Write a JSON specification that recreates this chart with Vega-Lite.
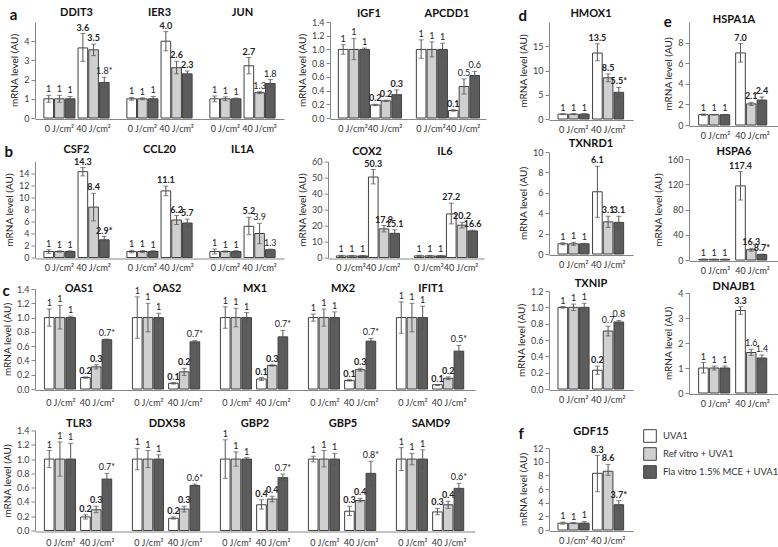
{
"$schema":"https://vega.github.io/schema/vega-lite/v6.json",
"background":"white",
"padding":{"left":2,"top":7,"right":0,"bottom":0},
"config":{
 "font":"Lato",
 "view":{"stroke":null},
 "header":{"labelFontSize":11,"labelFontWeight":"bold","labelColor":"#111111","labelFont":"Lato"},
 "axisY":{"domainColor":"#868686","tickColor":"#868686","tickSize":4,"labelFontSize":9,"labelColor":"#404040","titleFontSize":10,"titleFontWeight":"normal","titleColor":"#222222","titlePadding":4,"grid":false,"labelPadding":2,"labelOverlap":false,"labelFlush":false,"tickCount":30},
 "axisX":{"domainColor":"#868686","ticks":false,"labelFontSize":9,"labelColor":"#333333","labelPadding":5,"labelAngle":0,"labelOverlap":false,"labelBound":false,"grid":false},
 "title":{"fontSize":15,"fontWeight":"bold","color":"#111111","anchor":"start","frame":"bounds","offset":-16},
 "legend":{"orient":"none","legendX":608,"legendY":407,"symbolType":"square","symbolSize":160,"symbolStrokeColor":"#404040","symbolStrokeWidth":1,"labelFontSize":9.5,"labelColor":"#333333","rowPadding":0,"labelOffset":6}
},
"datasets":{"bars":[
{"p":"a1","g":"DDIT3","d":"0 J/cm²","t":"UVA1","m":1,"lo":0.82,"hi":1.18,"lab":"1","s":"n"},
{"p":"a1","g":"DDIT3","d":"0 J/cm²","t":"Ref vitro + UVA1","m":1,"lo":0.82,"hi":1.18,"lab":"1","s":"n"},
{"p":"a1","g":"DDIT3","d":"0 J/cm²","t":"Fla vitro 1.5% MCE + UVA1","m":1,"lo":0.88,"hi":1.12,"lab":"1","s":"n"},
{"p":"a1","g":"DDIT3","d":"40 J/cm²","t":"UVA1","m":3.65,"lo":2.95,"hi":4.4,"lab":"3.6","s":"y"},
{"p":"a1","g":"DDIT3","d":"40 J/cm²","t":"Ref vitro + UVA1","m":3.55,"lo":3.25,"hi":3.85,"lab":"3.5","s":"y"},
{"p":"a1","g":"DDIT3","d":"40 J/cm²","t":"Fla vitro 1.5% MCE + UVA1","m":1.85,"lo":1.6,"hi":2.12,"lab":"1.8*","s":"n"},
{"p":"a1","g":"IER3","d":"0 J/cm²","t":"UVA1","m":1,"lo":0.93,"hi":1.07,"lab":"1","s":"n"},
{"p":"a1","g":"IER3","d":"0 J/cm²","t":"Ref vitro + UVA1","m":1,"lo":0.95,"hi":1.05,"lab":"1","s":"n"},
{"p":"a1","g":"IER3","d":"0 J/cm²","t":"Fla vitro 1.5% MCE + UVA1","m":1,"lo":0.88,"hi":1.12,"lab":"1","s":"n"},
{"p":"a1","g":"IER3","d":"40 J/cm²","t":"UVA1","m":4.0,"lo":3.5,"hi":4.5,"lab":"4.0","s":"y"},
{"p":"a1","g":"IER3","d":"40 J/cm²","t":"Ref vitro + UVA1","m":2.62,"lo":2.3,"hi":2.95,"lab":"2.6","s":"y"},
{"p":"a1","g":"IER3","d":"40 J/cm²","t":"Fla vitro 1.5% MCE + UVA1","m":2.3,"lo":2.15,"hi":2.45,"lab":"2.3","s":"y"},
{"p":"a1","g":"JUN","d":"0 J/cm²","t":"UVA1","m":1,"lo":0.85,"hi":1.15,"lab":"1","s":"n"},
{"p":"a1","g":"JUN","d":"0 J/cm²","t":"Ref vitro + UVA1","m":1,"lo":0.9,"hi":1.1,"lab":"1","s":"n"},
{"p":"a1","g":"JUN","d":"0 J/cm²","t":"Fla vitro 1.5% MCE + UVA1","m":1,"lo":0.96,"hi":1.04,"lab":"1","s":"n"},
{"p":"a1","g":"JUN","d":"40 J/cm²","t":"UVA1","m":2.72,"lo":2.3,"hi":3.15,"lab":"2.7","s":"y"},
{"p":"a1","g":"JUN","d":"40 J/cm²","t":"Ref vitro + UVA1","m":1.32,"lo":1.27,"hi":1.37,"lab":"1.3","s":"n"},
{"p":"a1","g":"JUN","d":"40 J/cm²","t":"Fla vitro 1.5% MCE + UVA1","m":1.8,"lo":1.6,"hi":2.0,"lab":"1.8","s":"n"},
{"p":"a2","g":"IGF1","d":"0 J/cm²","t":"UVA1","m":1,"lo":0.93,"hi":1.07,"lab":"1","s":"n"},
{"p":"a2","g":"IGF1","d":"0 J/cm²","t":"Ref vitro + UVA1","m":1,"lo":0.85,"hi":1.16,"lab":"1","s":"n"},
{"p":"a2","g":"IGF1","d":"0 J/cm²","t":"Fla vitro 1.5% MCE + UVA1","m":1,"lo":0.98,"hi":1.02,"lab":"1","s":"n"},
{"p":"a2","g":"IGF1","d":"40 J/cm²","t":"UVA1","m":0.19,"lo":0.18,"hi":0.2,"lab":"0.2","s":"y"},
{"p":"a2","g":"IGF1","d":"40 J/cm²","t":"Ref vitro + UVA1","m":0.25,"lo":0.24,"hi":0.26,"lab":"0.2","s":"y"},
{"p":"a2","g":"IGF1","d":"40 J/cm²","t":"Fla vitro 1.5% MCE + UVA1","m":0.34,"lo":0.28,"hi":0.41,"lab":"0.3","s":"y"},
{"p":"a2","g":"APCDD1","d":"0 J/cm²","t":"UVA1","m":1,"lo":0.87,"hi":1.14,"lab":"1","s":"n"},
{"p":"a2","g":"APCDD1","d":"0 J/cm²","t":"Ref vitro + UVA1","m":1,"lo":0.89,"hi":1.11,"lab":"1","s":"n"},
{"p":"a2","g":"APCDD1","d":"0 J/cm²","t":"Fla vitro 1.5% MCE + UVA1","m":1,"lo":0.9,"hi":1.09,"lab":"1","s":"n"},
{"p":"a2","g":"APCDD1","d":"40 J/cm²","t":"UVA1","m":0.11,"lo":0.1,"hi":0.12,"lab":"0.1","s":"y"},
{"p":"a2","g":"APCDD1","d":"40 J/cm²","t":"Ref vitro + UVA1","m":0.46,"lo":0.35,"hi":0.57,"lab":"0.5","s":"n"},
{"p":"a2","g":"APCDD1","d":"40 J/cm²","t":"Fla vitro 1.5% MCE + UVA1","m":0.62,"lo":0.57,"hi":0.68,"lab":"0.6","s":"n"},
{"p":"b1","g":"CSF2","d":"0 J/cm²","t":"UVA1","m":1,"lo":0.7,"hi":1.3,"lab":"1","s":"n"},
{"p":"b1","g":"CSF2","d":"0 J/cm²","t":"Ref vitro + UVA1","m":1,"lo":0.9,"hi":1.1,"lab":"1","s":"n"},
{"p":"b1","g":"CSF2","d":"0 J/cm²","t":"Fla vitro 1.5% MCE + UVA1","m":1,"lo":0.88,"hi":1.12,"lab":"1","s":"n"},
{"p":"b1","g":"CSF2","d":"40 J/cm²","t":"UVA1","m":14.3,"lo":13.6,"hi":15.0,"lab":"14.3","s":"y"},
{"p":"b1","g":"CSF2","d":"40 J/cm²","t":"Ref vitro + UVA1","m":8.4,"lo":6.1,"hi":10.7,"lab":"8.4","s":"y"},
{"p":"b1","g":"CSF2","d":"40 J/cm²","t":"Fla vitro 1.5% MCE + UVA1","m":2.95,"lo":2.5,"hi":3.5,"lab":"2.9*","s":"y"},
{"p":"b1","g":"CCL20","d":"0 J/cm²","t":"UVA1","m":1,"lo":0.8,"hi":1.2,"lab":"1","s":"n"},
{"p":"b1","g":"CCL20","d":"0 J/cm²","t":"Ref vitro + UVA1","m":1,"lo":0.82,"hi":1.18,"lab":"1","s":"n"},
{"p":"b1","g":"CCL20","d":"0 J/cm²","t":"Fla vitro 1.5% MCE + UVA1","m":1,"lo":0.85,"hi":1.15,"lab":"1","s":"n"},
{"p":"b1","g":"CCL20","d":"40 J/cm²","t":"UVA1","m":11.1,"lo":10.3,"hi":11.9,"lab":"11.1","s":"y"},
{"p":"b1","g":"CCL20","d":"40 J/cm²","t":"Ref vitro + UVA1","m":6.25,"lo":5.5,"hi":7.0,"lab":"6.2","s":"y"},
{"p":"b1","g":"CCL20","d":"40 J/cm²","t":"Fla vitro 1.5% MCE + UVA1","m":5.75,"lo":5.1,"hi":6.4,"lab":"5.7","s":"y"},
{"p":"b1","g":"IL1A","d":"0 J/cm²","t":"UVA1","m":1,"lo":0.6,"hi":1.4,"lab":"1","s":"n"},
{"p":"b1","g":"IL1A","d":"0 J/cm²","t":"Ref vitro + UVA1","m":1,"lo":0.9,"hi":1.1,"lab":"1","s":"n"},
{"p":"b1","g":"IL1A","d":"0 J/cm²","t":"Fla vitro 1.5% MCE + UVA1","m":1,"lo":0.85,"hi":1.15,"lab":"1","s":"n"},
{"p":"b1","g":"IL1A","d":"40 J/cm²","t":"UVA1","m":5.2,"lo":3.8,"hi":6.7,"lab":"5.2","s":"y"},
{"p":"b1","g":"IL1A","d":"40 J/cm²","t":"Ref vitro + UVA1","m":4.0,"lo":2.3,"hi":5.7,"lab":"3.9","s":"n"},
{"p":"b1","g":"IL1A","d":"40 J/cm²","t":"Fla vitro 1.5% MCE + UVA1","m":1.3,"lo":1.2,"hi":1.4,"lab":"1.3","s":"n"},
{"p":"b2","g":"COX2","d":"0 J/cm²","t":"UVA1","m":1,"lo":0.6,"hi":1.4,"lab":"1","s":"n"},
{"p":"b2","g":"COX2","d":"0 J/cm²","t":"Ref vitro + UVA1","m":1,"lo":0.7,"hi":1.3,"lab":"1","s":"n"},
{"p":"b2","g":"COX2","d":"0 J/cm²","t":"Fla vitro 1.5% MCE + UVA1","m":1,"lo":0.7,"hi":1.3,"lab":"1","s":"n"},
{"p":"b2","g":"COX2","d":"40 J/cm²","t":"UVA1","m":50.3,"lo":46,"hi":55,"lab":"50.3","s":"y"},
{"p":"b2","g":"COX2","d":"40 J/cm²","t":"Ref vitro + UVA1","m":17.9,"lo":16,"hi":20,"lab":"17.9","s":"y"},
{"p":"b2","g":"COX2","d":"40 J/cm²","t":"Fla vitro 1.5% MCE + UVA1","m":15.1,"lo":13,"hi":17.3,"lab":"15.1","s":"y"},
{"p":"b2","g":"IL6","d":"0 J/cm²","t":"UVA1","m":1,"lo":0.6,"hi":1.4,"lab":"1","s":"n"},
{"p":"b2","g":"IL6","d":"0 J/cm²","t":"Ref vitro + UVA1","m":1,"lo":0.7,"hi":1.3,"lab":"1","s":"n"},
{"p":"b2","g":"IL6","d":"0 J/cm²","t":"Fla vitro 1.5% MCE + UVA1","m":1,"lo":0.7,"hi":1.3,"lab":"1","s":"n"},
{"p":"b2","g":"IL6","d":"40 J/cm²","t":"UVA1","m":27.2,"lo":21,"hi":34,"lab":"27.2","s":"y"},
{"p":"b2","g":"IL6","d":"40 J/cm²","t":"Ref vitro + UVA1","m":20.2,"lo":18.5,"hi":22,"lab":"20.2","s":"y"},
{"p":"b2","g":"IL6","d":"40 J/cm²","t":"Fla vitro 1.5% MCE + UVA1","m":16.6,"lo":16.1,"hi":17.1,"lab":"16.6","s":"y"},
{"p":"c1","g":"OAS1","d":"0 J/cm²","t":"UVA1","m":1,"lo":0.88,"hi":1.12,"lab":"1","s":"n"},
{"p":"c1","g":"OAS1","d":"0 J/cm²","t":"Ref vitro + UVA1","m":1,"lo":0.84,"hi":1.17,"lab":"1","s":"n"},
{"p":"c1","g":"OAS1","d":"0 J/cm²","t":"Fla vitro 1.5% MCE + UVA1","m":1,"lo":0.98,"hi":1.02,"lab":"1","s":"n"},
{"p":"c1","g":"OAS1","d":"40 J/cm²","t":"UVA1","m":0.16,"lo":0.15,"hi":0.17,"lab":"0.2","s":"y"},
{"p":"c1","g":"OAS1","d":"40 J/cm²","t":"Ref vitro + UVA1","m":0.31,"lo":0.28,"hi":0.34,"lab":"0.3","s":"y"},
{"p":"c1","g":"OAS1","d":"40 J/cm²","t":"Fla vitro 1.5% MCE + UVA1","m":0.69,"lo":0.68,"hi":0.7,"lab":"0.7*","s":"n"},
{"p":"c1","g":"OAS2","d":"0 J/cm²","t":"UVA1","m":1,"lo":0.71,"hi":1.29,"lab":"1","s":"n"},
{"p":"c1","g":"OAS2","d":"0 J/cm²","t":"Ref vitro + UVA1","m":1,"lo":0.8,"hi":1.2,"lab":"1","s":"n"},
{"p":"c1","g":"OAS2","d":"0 J/cm²","t":"Fla vitro 1.5% MCE + UVA1","m":1,"lo":0.94,"hi":1.06,"lab":"1","s":"n"},
{"p":"c1","g":"OAS2","d":"40 J/cm²","t":"UVA1","m":0.08,"lo":0.07,"hi":0.09,"lab":"0.1","s":"y"},
{"p":"c1","g":"OAS2","d":"40 J/cm²","t":"Ref vitro + UVA1","m":0.24,"lo":0.19,"hi":0.29,"lab":"0.2","s":"y"},
{"p":"c1","g":"OAS2","d":"40 J/cm²","t":"Fla vitro 1.5% MCE + UVA1","m":0.66,"lo":0.64,"hi":0.68,"lab":"0.7*","s":"n"},
{"p":"c1","g":"MX1","d":"0 J/cm²","t":"UVA1","m":1,"lo":0.85,"hi":1.15,"lab":"1","s":"n"},
{"p":"c1","g":"MX1","d":"0 J/cm²","t":"Ref vitro + UVA1","m":1,"lo":0.87,"hi":1.13,"lab":"1","s":"n"},
{"p":"c1","g":"MX1","d":"0 J/cm²","t":"Fla vitro 1.5% MCE + UVA1","m":1,"lo":0.93,"hi":1.07,"lab":"1","s":"n"},
{"p":"c1","g":"MX1","d":"40 J/cm²","t":"UVA1","m":0.14,"lo":0.12,"hi":0.16,"lab":"0.1","s":"y"},
{"p":"c1","g":"MX1","d":"40 J/cm²","t":"Ref vitro + UVA1","m":0.33,"lo":0.32,"hi":0.34,"lab":"0.3","s":"y"},
{"p":"c1","g":"MX1","d":"40 J/cm²","t":"Fla vitro 1.5% MCE + UVA1","m":0.73,"lo":0.65,"hi":0.82,"lab":"0.7*","s":"n"},
{"p":"c1","g":"MX2","d":"0 J/cm²","t":"UVA1","m":1,"lo":0.95,"hi":1.05,"lab":"1","s":"n"},
{"p":"c1","g":"MX2","d":"0 J/cm²","t":"Ref vitro + UVA1","m":1,"lo":0.88,"hi":1.12,"lab":"1","s":"n"},
{"p":"c1","g":"MX2","d":"0 J/cm²","t":"Fla vitro 1.5% MCE + UVA1","m":1,"lo":0.92,"hi":1.08,"lab":"1","s":"n"},
{"p":"c1","g":"MX2","d":"40 J/cm²","t":"UVA1","m":0.12,"lo":0.11,"hi":0.13,"lab":"0.1","s":"y"},
{"p":"c1","g":"MX2","d":"40 J/cm²","t":"Ref vitro + UVA1","m":0.27,"lo":0.25,"hi":0.29,"lab":"0.3","s":"y"},
{"p":"c1","g":"MX2","d":"40 J/cm²","t":"Fla vitro 1.5% MCE + UVA1","m":0.67,"lo":0.64,"hi":0.71,"lab":"0.7*","s":"n"},
{"p":"c1","g":"IFIT1","d":"0 J/cm²","t":"UVA1","m":1,"lo":0.78,"hi":1.22,"lab":"1","s":"n"},
{"p":"c1","g":"IFIT1","d":"0 J/cm²","t":"Ref vitro + UVA1","m":1,"lo":0.8,"hi":1.2,"lab":"1","s":"n"},
{"p":"c1","g":"IFIT1","d":"0 J/cm²","t":"Fla vitro 1.5% MCE + UVA1","m":1,"lo":0.84,"hi":1.16,"lab":"1","s":"n"},
{"p":"c1","g":"IFIT1","d":"40 J/cm²","t":"UVA1","m":0.06,"lo":0.05,"hi":0.06,"lab":"0.1","s":"y"},
{"p":"c1","g":"IFIT1","d":"40 J/cm²","t":"Ref vitro + UVA1","m":0.15,"lo":0.13,"hi":0.17,"lab":"0.2","s":"y"},
{"p":"c1","g":"IFIT1","d":"40 J/cm²","t":"Fla vitro 1.5% MCE + UVA1","m":0.53,"lo":0.45,"hi":0.61,"lab":"0.5*","s":"n"},
{"p":"c2","g":"TLR3","d":"0 J/cm²","t":"UVA1","m":1,"lo":0.88,"hi":1.12,"lab":"1","s":"n"},
{"p":"c2","g":"TLR3","d":"0 J/cm²","t":"Ref vitro + UVA1","m":1,"lo":0.76,"hi":1.24,"lab":"1","s":"n"},
{"p":"c2","g":"TLR3","d":"0 J/cm²","t":"Fla vitro 1.5% MCE + UVA1","m":1,"lo":0.78,"hi":1.22,"lab":"1","s":"n"},
{"p":"c2","g":"TLR3","d":"40 J/cm²","t":"UVA1","m":0.19,"lo":0.16,"hi":0.22,"lab":"0.2","s":"y"},
{"p":"c2","g":"TLR3","d":"40 J/cm²","t":"Ref vitro + UVA1","m":0.29,"lo":0.25,"hi":0.34,"lab":"0.3","s":"y"},
{"p":"c2","g":"TLR3","d":"40 J/cm²","t":"Fla vitro 1.5% MCE + UVA1","m":0.72,"lo":0.64,"hi":0.8,"lab":"0.7*","s":"n"},
{"p":"c2","g":"DDX58","d":"0 J/cm²","t":"UVA1","m":1,"lo":0.85,"hi":1.15,"lab":"1","s":"n"},
{"p":"c2","g":"DDX58","d":"0 J/cm²","t":"Ref vitro + UVA1","m":1,"lo":0.88,"hi":1.12,"lab":"1","s":"n"},
{"p":"c2","g":"DDX58","d":"0 J/cm²","t":"Fla vitro 1.5% MCE + UVA1","m":1,"lo":0.94,"hi":1.06,"lab":"1","s":"n"},
{"p":"c2","g":"DDX58","d":"40 J/cm²","t":"UVA1","m":0.17,"lo":0.16,"hi":0.19,"lab":"0.2","s":"y"},
{"p":"c2","g":"DDX58","d":"40 J/cm²","t":"Ref vitro + UVA1","m":0.3,"lo":0.26,"hi":0.34,"lab":"0.3","s":"y"},
{"p":"c2","g":"DDX58","d":"40 J/cm²","t":"Fla vitro 1.5% MCE + UVA1","m":0.63,"lo":0.62,"hi":0.65,"lab":"0.6*","s":"n"},
{"p":"c2","g":"GBP2","d":"0 J/cm²","t":"UVA1","m":1,"lo":0.73,"hi":1.27,"lab":"1","s":"n"},
{"p":"c2","g":"GBP2","d":"0 J/cm²","t":"Ref vitro + UVA1","m":1,"lo":0.9,"hi":1.1,"lab":"1","s":"n"},
{"p":"c2","g":"GBP2","d":"0 J/cm²","t":"Fla vitro 1.5% MCE + UVA1","m":1,"lo":0.98,"hi":1.02,"lab":"1","s":"n"},
{"p":"c2","g":"GBP2","d":"40 J/cm²","t":"UVA1","m":0.36,"lo":0.3,"hi":0.43,"lab":"0.4","s":"y"},
{"p":"c2","g":"GBP2","d":"40 J/cm²","t":"Ref vitro + UVA1","m":0.44,"lo":0.4,"hi":0.48,"lab":"0.4","s":"y"},
{"p":"c2","g":"GBP2","d":"40 J/cm²","t":"Fla vitro 1.5% MCE + UVA1","m":0.74,"lo":0.7,"hi":0.79,"lab":"0.7*","s":"n"},
{"p":"c2","g":"GBP5","d":"0 J/cm²","t":"UVA1","m":1,"lo":0.96,"hi":1.04,"lab":"1","s":"n"},
{"p":"c2","g":"GBP5","d":"0 J/cm²","t":"Ref vitro + UVA1","m":1,"lo":0.89,"hi":1.12,"lab":"1","s":"n"},
{"p":"c2","g":"GBP5","d":"0 J/cm²","t":"Fla vitro 1.5% MCE + UVA1","m":1,"lo":0.92,"hi":1.08,"lab":"1","s":"n"},
{"p":"c2","g":"GBP5","d":"40 J/cm²","t":"UVA1","m":0.27,"lo":0.21,"hi":0.34,"lab":"0.3","s":"y"},
{"p":"c2","g":"GBP5","d":"40 J/cm²","t":"Ref vitro + UVA1","m":0.42,"lo":0.4,"hi":0.45,"lab":"0.4","s":"y"},
{"p":"c2","g":"GBP5","d":"40 J/cm²","t":"Fla vitro 1.5% MCE + UVA1","m":0.8,"lo":0.63,"hi":0.97,"lab":"0.8*","s":"n"},
{"p":"c2","g":"SAMD9","d":"0 J/cm²","t":"UVA1","m":1,"lo":0.84,"hi":1.16,"lab":"1","s":"n"},
{"p":"c2","g":"SAMD9","d":"0 J/cm²","t":"Ref vitro + UVA1","m":1,"lo":0.92,"hi":1.08,"lab":"1","s":"n"},
{"p":"c2","g":"SAMD9","d":"0 J/cm²","t":"Fla vitro 1.5% MCE + UVA1","m":1,"lo":0.87,"hi":1.13,"lab":"1","s":"n"},
{"p":"c2","g":"SAMD9","d":"40 J/cm²","t":"UVA1","m":0.26,"lo":0.22,"hi":0.31,"lab":"0.3","s":"y"},
{"p":"c2","g":"SAMD9","d":"40 J/cm²","t":"Ref vitro + UVA1","m":0.36,"lo":0.31,"hi":0.41,"lab":"0.4","s":"y"},
{"p":"c2","g":"SAMD9","d":"40 J/cm²","t":"Fla vitro 1.5% MCE + UVA1","m":0.59,"lo":0.53,"hi":0.66,"lab":"0.6*","s":"n"},
{"p":"d1","g":"HMOX1","d":"0 J/cm²","t":"UVA1","m":1,"lo":0.9,"hi":1.1,"lab":"1","s":"n"},
{"p":"d1","g":"HMOX1","d":"0 J/cm²","t":"Ref vitro + UVA1","m":1,"lo":0.9,"hi":1.1,"lab":"1","s":"n"},
{"p":"d1","g":"HMOX1","d":"0 J/cm²","t":"Fla vitro 1.5% MCE + UVA1","m":1,"lo":0.9,"hi":1.1,"lab":"1","s":"n"},
{"p":"d1","g":"HMOX1","d":"40 J/cm²","t":"UVA1","m":13.6,"lo":12.0,"hi":15.5,"lab":"13.5","s":"y"},
{"p":"d1","g":"HMOX1","d":"40 J/cm²","t":"Ref vitro + UVA1","m":8.5,"lo":7.7,"hi":9.3,"lab":"8.5","s":"y"},
{"p":"d1","g":"HMOX1","d":"40 J/cm²","t":"Fla vitro 1.5% MCE + UVA1","m":5.5,"lo":4.5,"hi":6.5,"lab":"5.5*","s":"y"},
{"p":"d2","g":"TXNRD1","d":"0 J/cm²","t":"UVA1","m":1,"lo":0.9,"hi":1.1,"lab":"1","s":"n"},
{"p":"d2","g":"TXNRD1","d":"0 J/cm²","t":"Ref vitro + UVA1","m":1,"lo":0.85,"hi":1.15,"lab":"1","s":"n"},
{"p":"d2","g":"TXNRD1","d":"0 J/cm²","t":"Fla vitro 1.5% MCE + UVA1","m":1,"lo":0.95,"hi":1.05,"lab":"1","s":"n"},
{"p":"d2","g":"TXNRD1","d":"40 J/cm²","t":"UVA1","m":6.1,"lo":3.6,"hi":8.6,"lab":"6.1","s":"y"},
{"p":"d2","g":"TXNRD1","d":"40 J/cm²","t":"Ref vitro + UVA1","m":3.15,"lo":2.6,"hi":3.7,"lab":"3.1","s":"y"},
{"p":"d2","g":"TXNRD1","d":"40 J/cm²","t":"Fla vitro 1.5% MCE + UVA1","m":3.1,"lo":2.5,"hi":3.7,"lab":"3.1","s":"y"},
{"p":"d3","g":"TXNIP","d":"0 J/cm²","t":"UVA1","m":1,"lo":0.99,"hi":1.01,"lab":"1","s":"n"},
{"p":"d3","g":"TXNIP","d":"0 J/cm²","t":"Ref vitro + UVA1","m":1,"lo":0.96,"hi":1.04,"lab":"1","s":"n"},
{"p":"d3","g":"TXNIP","d":"0 J/cm²","t":"Fla vitro 1.5% MCE + UVA1","m":1,"lo":0.95,"hi":1.05,"lab":"1","s":"n"},
{"p":"d3","g":"TXNIP","d":"40 J/cm²","t":"UVA1","m":0.23,"lo":0.18,"hi":0.28,"lab":"0.2","s":"y"},
{"p":"d3","g":"TXNIP","d":"40 J/cm²","t":"Ref vitro + UVA1","m":0.71,"lo":0.65,"hi":0.77,"lab":"0.7","s":"n"},
{"p":"d3","g":"TXNIP","d":"40 J/cm²","t":"Fla vitro 1.5% MCE + UVA1","m":0.82,"lo":0.8,"hi":0.84,"lab":"0.8","s":"n"},
{"p":"e1","g":"HSPA1A","d":"0 J/cm²","t":"UVA1","m":1,"lo":0.93,"hi":1.07,"lab":"1","s":"n"},
{"p":"e1","g":"HSPA1A","d":"0 J/cm²","t":"Ref vitro + UVA1","m":1,"lo":0.97,"hi":1.03,"lab":"1","s":"n"},
{"p":"e1","g":"HSPA1A","d":"0 J/cm²","t":"Fla vitro 1.5% MCE + UVA1","m":1,"lo":0.97,"hi":1.03,"lab":"1","s":"n"},
{"p":"e1","g":"HSPA1A","d":"40 J/cm²","t":"UVA1","m":7.0,"lo":6.1,"hi":7.9,"lab":"7.0","s":"y"},
{"p":"e1","g":"HSPA1A","d":"40 J/cm²","t":"Ref vitro + UVA1","m":2.05,"lo":1.9,"hi":2.2,"lab":"2.1","s":"y"},
{"p":"e1","g":"HSPA1A","d":"40 J/cm²","t":"Fla vitro 1.5% MCE + UVA1","m":2.42,"lo":2.1,"hi":2.72,"lab":"2.4","s":"y"},
{"p":"e2","g":"HSPA6","d":"0 J/cm²","t":"UVA1","m":1,"lo":0.5,"hi":1.5,"lab":"1","s":"n"},
{"p":"e2","g":"HSPA6","d":"0 J/cm²","t":"Ref vitro + UVA1","m":1,"lo":0.5,"hi":1.5,"lab":"1","s":"n"},
{"p":"e2","g":"HSPA6","d":"0 J/cm²","t":"Fla vitro 1.5% MCE + UVA1","m":1,"lo":0.5,"hi":1.5,"lab":"1","s":"n"},
{"p":"e2","g":"HSPA6","d":"40 J/cm²","t":"UVA1","m":117.4,"lo":95,"hi":140,"lab":"117.4","s":"y"},
{"p":"e2","g":"HSPA6","d":"40 J/cm²","t":"Ref vitro + UVA1","m":16.3,"lo":14,"hi":18.5,"lab":"16.3","s":"y"},
{"p":"e2","g":"HSPA6","d":"40 J/cm²","t":"Fla vitro 1.5% MCE + UVA1","m":8.7,"lo":8,"hi":9.4,"lab":"8.7*","s":"y"},
{"p":"e3","g":"DNAJB1","d":"0 J/cm²","t":"UVA1","m":1,"lo":0.8,"hi":1.22,"lab":"1","s":"n"},
{"p":"e3","g":"DNAJB1","d":"0 J/cm²","t":"Ref vitro + UVA1","m":1,"lo":0.92,"hi":1.08,"lab":"1","s":"n"},
{"p":"e3","g":"DNAJB1","d":"0 J/cm²","t":"Fla vitro 1.5% MCE + UVA1","m":1,"lo":0.92,"hi":1.08,"lab":"1","s":"n"},
{"p":"e3","g":"DNAJB1","d":"40 J/cm²","t":"UVA1","m":3.3,"lo":3.15,"hi":3.45,"lab":"3.3","s":"y"},
{"p":"e3","g":"DNAJB1","d":"40 J/cm²","t":"Ref vitro + UVA1","m":1.62,"lo":1.5,"hi":1.75,"lab":"1.6","s":"n"},
{"p":"e3","g":"DNAJB1","d":"40 J/cm²","t":"Fla vitro 1.5% MCE + UVA1","m":1.4,"lo":1.28,"hi":1.52,"lab":"1.4","s":"n"},
{"p":"f","g":"GDF15","d":"0 J/cm²","t":"UVA1","m":1,"lo":0.85,"hi":1.15,"lab":"1","s":"n"},
{"p":"f","g":"GDF15","d":"0 J/cm²","t":"Ref vitro + UVA1","m":1,"lo":0.92,"hi":1.08,"lab":"1","s":"n"},
{"p":"f","g":"GDF15","d":"0 J/cm²","t":"Fla vitro 1.5% MCE + UVA1","m":1,"lo":0.8,"hi":1.25,"lab":"1","s":"n"},
{"p":"f","g":"GDF15","d":"40 J/cm²","t":"UVA1","m":8.3,"lo":5.6,"hi":10.9,"lab":"8.3","s":"y"},
{"p":"f","g":"GDF15","d":"40 J/cm²","t":"Ref vitro + UVA1","m":8.6,"lo":8.0,"hi":9.6,"lab":"8.6","s":"y"},
{"p":"f","g":"GDF15","d":"40 J/cm²","t":"Fla vitro 1.5% MCE + UVA1","m":3.7,"lo":3.2,"hi":4.3,"lab":"3.7*","s":"y"}
]},
"hconcat":[
 {"vconcat":[
  {"hconcat":[
   {"title":{"text":"a"},"data":{"name":"bars"},"transform":[{"filter":"datum.p==='a1'"}],
    "facet":{"column":{"field":"g","type":"nominal","sort":["DDIT3","IER3","JUN"],"title":null,"header":{"labelPadding":3}}},
    "spacing":{"column":0},
    "spec":{"width":83,"height":96,"layer":[
     {"mark":{"type":"bar","stroke":"#404040","strokeWidth":1},"encoding":{
      "x":{"field":"d","type":"nominal","sort":["0 J/cm²","40 J/cm²"],"title":null,"scale":{"paddingInner":0.09,"paddingOuter":0.26}},
      "xOffset":{"field":"t","type":"nominal","sort":["UVA1","Ref vitro + UVA1","Fla vitro 1.5% MCE + UVA1"],"scale":{"paddingInner":0.1}},
      "y":{"field":"m","type":"quantitative","title":"mRNA level (AU)","scale":{"domain":[0,5],"nice":false},"axis":{"values":[0,1,2,3,4],"format":"d","tickCount":30}},
      "color":{"field":"t","type":"nominal","title":null,"scale":{"domain":["UVA1","Ref vitro + UVA1","Fla vitro 1.5% MCE + UVA1"],"range":["#ffffff","#d0d0d0","#5c5c5c"]}}}},
     {"mark":{"type":"rule","color":"#555555","strokeWidth":1},"encoding":{"x":{"field":"d","type":"nominal","sort":["0 J/cm²","40 J/cm²"],"title":null},"xOffset":{"field":"t","type":"nominal","sort":["UVA1","Ref vitro + UVA1","Fla vitro 1.5% MCE + UVA1"]},"y":{"field":"lo","type":"quantitative","title":"mRNA level (AU)"},"y2":{"field":"hi"}}},
     {"mark":{"type":"tick","color":"#555555","thickness":1,"size":5},"encoding":{"x":{"field":"d","type":"nominal","sort":["0 J/cm²","40 J/cm²"],"title":null},"xOffset":{"field":"t","type":"nominal","sort":["UVA1","Ref vitro + UVA1","Fla vitro 1.5% MCE + UVA1"]},"y":{"field":"lo","type":"quantitative","title":"mRNA level (AU)"}}},
     {"mark":{"type":"tick","color":"#555555","thickness":1,"size":5},"encoding":{"x":{"field":"d","type":"nominal","sort":["0 J/cm²","40 J/cm²"],"title":null},"xOffset":{"field":"t","type":"nominal","sort":["UVA1","Ref vitro + UVA1","Fla vitro 1.5% MCE + UVA1"]},"y":{"field":"hi","type":"quantitative","title":"mRNA level (AU)"}}},
     {"transform":[{"filter":"datum.s==='y'"}],"mark":{"type":"text","fontWeight":"bold","fontSize":9,"baseline":"bottom","dy":-1,"fill":"#222222"},"encoding":{"x":{"field":"d","type":"nominal","sort":["0 J/cm²","40 J/cm²"],"title":null},"xOffset":{"field":"t","type":"nominal","sort":["UVA1","Ref vitro + UVA1","Fla vitro 1.5% MCE + UVA1"]},"y":{"field":"hi","type":"quantitative","title":"mRNA level (AU)"},"text":{"field":"lab"}}},
     {"transform":[{"filter":"datum.s!=='y'"}],"mark":{"type":"text","fontSize":9,"baseline":"bottom","dy":-1,"fill":"#222222"},"encoding":{"x":{"field":"d","type":"nominal","sort":["0 J/cm²","40 J/cm²"],"title":null},"xOffset":{"field":"t","type":"nominal","sort":["UVA1","Ref vitro + UVA1","Fla vitro 1.5% MCE + UVA1"]},"y":{"field":"hi","type":"quantitative","title":"mRNA level (AU)"},"text":{"field":"lab"}}}
    ]}},
   {"data":{"name":"bars"},"transform":[{"filter":"datum.p==='a2'"}],
    "facet":{"column":{"field":"g","type":"nominal","sort":["IGF1","APCDD1"],"title":null,"header":{"labelPadding":3}}},
    "spacing":{"column":0},
    "spec":{"width":78,"height":96,"layer":[
     {"mark":{"type":"bar","stroke":"#404040","strokeWidth":1},"encoding":{
      "x":{"field":"d","type":"nominal","sort":["0 J/cm²","40 J/cm²"],"title":null,"scale":{"paddingInner":0.09,"paddingOuter":0.26}},
      "xOffset":{"field":"t","type":"nominal","sort":["UVA1","Ref vitro + UVA1","Fla vitro 1.5% MCE + UVA1"],"scale":{"paddingInner":0.1}},
      "y":{"field":"m","type":"quantitative","title":"mRNA level (AU)","scale":{"domain":[0,1.4],"nice":false},"axis":{"values":[0,0.2,0.4,0.6,0.8,1.0,1.2,1.4],"format":".1f","tickCount":30}},
      "color":{"field":"t","type":"nominal","title":null,"scale":{"domain":["UVA1","Ref vitro + UVA1","Fla vitro 1.5% MCE + UVA1"],"range":["#ffffff","#d0d0d0","#5c5c5c"]}}}},
     {"mark":{"type":"rule","color":"#555555","strokeWidth":1},"encoding":{"x":{"field":"d","type":"nominal","sort":["0 J/cm²","40 J/cm²"],"title":null},"xOffset":{"field":"t","type":"nominal","sort":["UVA1","Ref vitro + UVA1","Fla vitro 1.5% MCE + UVA1"]},"y":{"field":"lo","type":"quantitative","title":"mRNA level (AU)"},"y2":{"field":"hi"}}},
     {"mark":{"type":"tick","color":"#555555","thickness":1,"size":5},"encoding":{"x":{"field":"d","type":"nominal","sort":["0 J/cm²","40 J/cm²"],"title":null},"xOffset":{"field":"t","type":"nominal","sort":["UVA1","Ref vitro + UVA1","Fla vitro 1.5% MCE + UVA1"]},"y":{"field":"lo","type":"quantitative","title":"mRNA level (AU)"}}},
     {"mark":{"type":"tick","color":"#555555","thickness":1,"size":5},"encoding":{"x":{"field":"d","type":"nominal","sort":["0 J/cm²","40 J/cm²"],"title":null},"xOffset":{"field":"t","type":"nominal","sort":["UVA1","Ref vitro + UVA1","Fla vitro 1.5% MCE + UVA1"]},"y":{"field":"hi","type":"quantitative","title":"mRNA level (AU)"}}},
     {"transform":[{"filter":"datum.s==='y'"}],"mark":{"type":"text","fontWeight":"bold","fontSize":9,"baseline":"bottom","dy":-1,"fill":"#222222"},"encoding":{"x":{"field":"d","type":"nominal","sort":["0 J/cm²","40 J/cm²"],"title":null},"xOffset":{"field":"t","type":"nominal","sort":["UVA1","Ref vitro + UVA1","Fla vitro 1.5% MCE + UVA1"]},"y":{"field":"hi","type":"quantitative","title":"mRNA level (AU)"},"text":{"field":"lab"}}},
     {"transform":[{"filter":"datum.s!=='y'"}],"mark":{"type":"text","fontSize":9,"baseline":"bottom","dy":-1,"fill":"#222222"},"encoding":{"x":{"field":"d","type":"nominal","sort":["0 J/cm²","40 J/cm²"],"title":null},"xOffset":{"field":"t","type":"nominal","sort":["UVA1","Ref vitro + UVA1","Fla vitro 1.5% MCE + UVA1"]},"y":{"field":"hi","type":"quantitative","title":"mRNA level (AU)"},"text":{"field":"lab"}}}
    ]}}
  ],"spacing":13},
  {"hconcat":[
   {"title":{"text":"b"},"data":{"name":"bars"},"transform":[{"filter":"datum.p==='b1'"}],
    "facet":{"column":{"field":"g","type":"nominal","sort":["CSF2","CCL20","IL1A"],"title":null,"header":{"labelPadding":3}}},
    "spacing":{"column":0},
    "spec":{"width":83,"height":96,"layer":[
     {"mark":{"type":"bar","stroke":"#404040","strokeWidth":1},"encoding":{
      "x":{"field":"d","type":"nominal","sort":["0 J/cm²","40 J/cm²"],"title":null,"scale":{"paddingInner":0.09,"paddingOuter":0.26}},
      "xOffset":{"field":"t","type":"nominal","sort":["UVA1","Ref vitro + UVA1","Fla vitro 1.5% MCE + UVA1"],"scale":{"paddingInner":0.1}},
      "y":{"field":"m","type":"quantitative","title":"mRNA level (AU)","scale":{"domain":[0,16],"nice":false},"axis":{"values":[0,2,4,6,8,10,12,14],"format":"d","tickCount":30}},
      "color":{"field":"t","type":"nominal","title":null,"scale":{"domain":["UVA1","Ref vitro + UVA1","Fla vitro 1.5% MCE + UVA1"],"range":["#ffffff","#d0d0d0","#5c5c5c"]}}}},
     {"mark":{"type":"rule","color":"#555555","strokeWidth":1},"encoding":{"x":{"field":"d","type":"nominal","sort":["0 J/cm²","40 J/cm²"],"title":null},"xOffset":{"field":"t","type":"nominal","sort":["UVA1","Ref vitro + UVA1","Fla vitro 1.5% MCE + UVA1"]},"y":{"field":"lo","type":"quantitative","title":"mRNA level (AU)"},"y2":{"field":"hi"}}},
     {"mark":{"type":"tick","color":"#555555","thickness":1,"size":5},"encoding":{"x":{"field":"d","type":"nominal","sort":["0 J/cm²","40 J/cm²"],"title":null},"xOffset":{"field":"t","type":"nominal","sort":["UVA1","Ref vitro + UVA1","Fla vitro 1.5% MCE + UVA1"]},"y":{"field":"lo","type":"quantitative","title":"mRNA level (AU)"}}},
     {"mark":{"type":"tick","color":"#555555","thickness":1,"size":5},"encoding":{"x":{"field":"d","type":"nominal","sort":["0 J/cm²","40 J/cm²"],"title":null},"xOffset":{"field":"t","type":"nominal","sort":["UVA1","Ref vitro + UVA1","Fla vitro 1.5% MCE + UVA1"]},"y":{"field":"hi","type":"quantitative","title":"mRNA level (AU)"}}},
     {"transform":[{"filter":"datum.s==='y'"}],"mark":{"type":"text","fontWeight":"bold","fontSize":9,"baseline":"bottom","dy":-1,"fill":"#222222"},"encoding":{"x":{"field":"d","type":"nominal","sort":["0 J/cm²","40 J/cm²"],"title":null},"xOffset":{"field":"t","type":"nominal","sort":["UVA1","Ref vitro + UVA1","Fla vitro 1.5% MCE + UVA1"]},"y":{"field":"hi","type":"quantitative","title":"mRNA level (AU)"},"text":{"field":"lab"}}},
     {"transform":[{"filter":"datum.s!=='y'"}],"mark":{"type":"text","fontSize":9,"baseline":"bottom","dy":-1,"fill":"#222222"},"encoding":{"x":{"field":"d","type":"nominal","sort":["0 J/cm²","40 J/cm²"],"title":null},"xOffset":{"field":"t","type":"nominal","sort":["UVA1","Ref vitro + UVA1","Fla vitro 1.5% MCE + UVA1"]},"y":{"field":"hi","type":"quantitative","title":"mRNA level (AU)"},"text":{"field":"lab"}}}
    ]}},
   {"data":{"name":"bars"},"transform":[{"filter":"datum.p==='b2'"}],
    "facet":{"column":{"field":"g","type":"nominal","sort":["COX2","IL6"],"title":null,"header":{"labelPadding":3}}},
    "spacing":{"column":0},
    "spec":{"width":78,"height":96,"layer":[
     {"mark":{"type":"bar","stroke":"#404040","strokeWidth":1},"encoding":{
      "x":{"field":"d","type":"nominal","sort":["0 J/cm²","40 J/cm²"],"title":null,"scale":{"paddingInner":0.09,"paddingOuter":0.26}},
      "xOffset":{"field":"t","type":"nominal","sort":["UVA1","Ref vitro + UVA1","Fla vitro 1.5% MCE + UVA1"],"scale":{"paddingInner":0.1}},
      "y":{"field":"m","type":"quantitative","title":"mRNA level (AU)","scale":{"domain":[0,60],"nice":false},"axis":{"values":[0,10,20,30,40,50,60],"format":"d","tickCount":30}},
      "color":{"field":"t","type":"nominal","title":null,"scale":{"domain":["UVA1","Ref vitro + UVA1","Fla vitro 1.5% MCE + UVA1"],"range":["#ffffff","#d0d0d0","#5c5c5c"]}}}},
     {"mark":{"type":"rule","color":"#555555","strokeWidth":1},"encoding":{"x":{"field":"d","type":"nominal","sort":["0 J/cm²","40 J/cm²"],"title":null},"xOffset":{"field":"t","type":"nominal","sort":["UVA1","Ref vitro + UVA1","Fla vitro 1.5% MCE + UVA1"]},"y":{"field":"lo","type":"quantitative","title":"mRNA level (AU)"},"y2":{"field":"hi"}}},
     {"mark":{"type":"tick","color":"#555555","thickness":1,"size":5},"encoding":{"x":{"field":"d","type":"nominal","sort":["0 J/cm²","40 J/cm²"],"title":null},"xOffset":{"field":"t","type":"nominal","sort":["UVA1","Ref vitro + UVA1","Fla vitro 1.5% MCE + UVA1"]},"y":{"field":"lo","type":"quantitative","title":"mRNA level (AU)"}}},
     {"mark":{"type":"tick","color":"#555555","thickness":1,"size":5},"encoding":{"x":{"field":"d","type":"nominal","sort":["0 J/cm²","40 J/cm²"],"title":null},"xOffset":{"field":"t","type":"nominal","sort":["UVA1","Ref vitro + UVA1","Fla vitro 1.5% MCE + UVA1"]},"y":{"field":"hi","type":"quantitative","title":"mRNA level (AU)"}}},
     {"transform":[{"filter":"datum.s==='y'"}],"mark":{"type":"text","fontWeight":"bold","fontSize":9,"baseline":"bottom","dy":-1,"fill":"#222222"},"encoding":{"x":{"field":"d","type":"nominal","sort":["0 J/cm²","40 J/cm²"],"title":null},"xOffset":{"field":"t","type":"nominal","sort":["UVA1","Ref vitro + UVA1","Fla vitro 1.5% MCE + UVA1"]},"y":{"field":"hi","type":"quantitative","title":"mRNA level (AU)"},"text":{"field":"lab"}}},
     {"transform":[{"filter":"datum.s!=='y'"}],"mark":{"type":"text","fontSize":9,"baseline":"bottom","dy":-1,"fill":"#222222"},"encoding":{"x":{"field":"d","type":"nominal","sort":["0 J/cm²","40 J/cm²"],"title":null},"xOffset":{"field":"t","type":"nominal","sort":["UVA1","Ref vitro + UVA1","Fla vitro 1.5% MCE + UVA1"]},"y":{"field":"hi","type":"quantitative","title":"mRNA level (AU)"},"text":{"field":"lab"}}}
    ]}}
  ],"spacing":13},
  {"hconcat":[
   {"title":{"text":"c"},"data":{"name":"bars"},"transform":[{"filter":"datum.p==='c1'"}],
    "facet":{"column":{"field":"g","type":"nominal","sort":["OAS1","OAS2","MX1","MX2","IFIT1"],"title":null,"header":{"labelPadding":-8}}},
    "spacing":{"column":0},
    "spec":{"width":88,"height":100,"layer":[
     {"mark":{"type":"bar","stroke":"#404040","strokeWidth":1},"encoding":{
      "x":{"field":"d","type":"nominal","sort":["0 J/cm²","40 J/cm²"],"title":null,"scale":{"paddingInner":0.09,"paddingOuter":0.26},"axis":{"labelPadding":8}},
      "xOffset":{"field":"t","type":"nominal","sort":["UVA1","Ref vitro + UVA1","Fla vitro 1.5% MCE + UVA1"],"scale":{"paddingInner":0.1}},
      "y":{"field":"m","type":"quantitative","title":"mRNA level (AU)","scale":{"domain":[0,1.4],"nice":false},"axis":{"values":[0,0.2,0.4,0.6,0.8,1.0,1.2,1.4],"format":".1f","tickCount":30}},
      "color":{"field":"t","type":"nominal","title":null,"scale":{"domain":["UVA1","Ref vitro + UVA1","Fla vitro 1.5% MCE + UVA1"],"range":["#ffffff","#d0d0d0","#5c5c5c"]}}}},
     {"mark":{"type":"rule","color":"#555555","strokeWidth":1},"encoding":{"x":{"field":"d","type":"nominal","sort":["0 J/cm²","40 J/cm²"],"title":null},"xOffset":{"field":"t","type":"nominal","sort":["UVA1","Ref vitro + UVA1","Fla vitro 1.5% MCE + UVA1"]},"y":{"field":"lo","type":"quantitative","title":"mRNA level (AU)"},"y2":{"field":"hi"}}},
     {"mark":{"type":"tick","color":"#555555","thickness":1,"size":5},"encoding":{"x":{"field":"d","type":"nominal","sort":["0 J/cm²","40 J/cm²"],"title":null},"xOffset":{"field":"t","type":"nominal","sort":["UVA1","Ref vitro + UVA1","Fla vitro 1.5% MCE + UVA1"]},"y":{"field":"lo","type":"quantitative","title":"mRNA level (AU)"}}},
     {"mark":{"type":"tick","color":"#555555","thickness":1,"size":5},"encoding":{"x":{"field":"d","type":"nominal","sort":["0 J/cm²","40 J/cm²"],"title":null},"xOffset":{"field":"t","type":"nominal","sort":["UVA1","Ref vitro + UVA1","Fla vitro 1.5% MCE + UVA1"]},"y":{"field":"hi","type":"quantitative","title":"mRNA level (AU)"}}},
     {"transform":[{"filter":"datum.s==='y'"}],"mark":{"type":"text","fontWeight":"bold","fontSize":9,"baseline":"bottom","dy":-1,"fill":"#222222"},"encoding":{"x":{"field":"d","type":"nominal","sort":["0 J/cm²","40 J/cm²"],"title":null},"xOffset":{"field":"t","type":"nominal","sort":["UVA1","Ref vitro + UVA1","Fla vitro 1.5% MCE + UVA1"]},"y":{"field":"hi","type":"quantitative","title":"mRNA level (AU)"},"text":{"field":"lab"}}},
     {"transform":[{"filter":"datum.s!=='y'"}],"mark":{"type":"text","fontSize":9,"baseline":"bottom","dy":-1,"fill":"#222222"},"encoding":{"x":{"field":"d","type":"nominal","sort":["0 J/cm²","40 J/cm²"],"title":null},"xOffset":{"field":"t","type":"nominal","sort":["UVA1","Ref vitro + UVA1","Fla vitro 1.5% MCE + UVA1"]},"y":{"field":"hi","type":"quantitative","title":"mRNA level (AU)"},"text":{"field":"lab"}}}
    ]}}
  ],"spacing":0},
  {"data":{"name":"bars"},"transform":[{"filter":"datum.p==='c2'"}],
    "facet":{"column":{"field":"g","type":"nominal","sort":["TLR3","DDX58","GBP2","GBP5","SAMD9"],"title":null,"header":{"labelPadding":1}}},
    "spacing":{"column":0},
    "spec":{"width":88,"height":100,"layer":[
     {"mark":{"type":"bar","stroke":"#404040","strokeWidth":1},"encoding":{
      "x":{"field":"d","type":"nominal","sort":["0 J/cm²","40 J/cm²"],"title":null,"scale":{"paddingInner":0.09,"paddingOuter":0.26},"axis":{"labelPadding":7}},
      "xOffset":{"field":"t","type":"nominal","sort":["UVA1","Ref vitro + UVA1","Fla vitro 1.5% MCE + UVA1"],"scale":{"paddingInner":0.1}},
      "y":{"field":"m","type":"quantitative","title":"mRNA level (AU)","scale":{"domain":[0,1.4],"nice":false},"axis":{"values":[0,0.2,0.4,0.6,0.8,1.0,1.2,1.4],"format":".1f","tickCount":30}},
      "color":{"field":"t","type":"nominal","title":null,"scale":{"domain":["UVA1","Ref vitro + UVA1","Fla vitro 1.5% MCE + UVA1"],"range":["#ffffff","#d0d0d0","#5c5c5c"]}}}},
     {"mark":{"type":"rule","color":"#555555","strokeWidth":1},"encoding":{"x":{"field":"d","type":"nominal","sort":["0 J/cm²","40 J/cm²"],"title":null},"xOffset":{"field":"t","type":"nominal","sort":["UVA1","Ref vitro + UVA1","Fla vitro 1.5% MCE + UVA1"]},"y":{"field":"lo","type":"quantitative","title":"mRNA level (AU)"},"y2":{"field":"hi"}}},
     {"mark":{"type":"tick","color":"#555555","thickness":1,"size":5},"encoding":{"x":{"field":"d","type":"nominal","sort":["0 J/cm²","40 J/cm²"],"title":null},"xOffset":{"field":"t","type":"nominal","sort":["UVA1","Ref vitro + UVA1","Fla vitro 1.5% MCE + UVA1"]},"y":{"field":"lo","type":"quantitative","title":"mRNA level (AU)"}}},
     {"mark":{"type":"tick","color":"#555555","thickness":1,"size":5},"encoding":{"x":{"field":"d","type":"nominal","sort":["0 J/cm²","40 J/cm²"],"title":null},"xOffset":{"field":"t","type":"nominal","sort":["UVA1","Ref vitro + UVA1","Fla vitro 1.5% MCE + UVA1"]},"y":{"field":"hi","type":"quantitative","title":"mRNA level (AU)"}}},
     {"transform":[{"filter":"datum.s==='y'"}],"mark":{"type":"text","fontWeight":"bold","fontSize":9,"baseline":"bottom","dy":-1,"fill":"#222222"},"encoding":{"x":{"field":"d","type":"nominal","sort":["0 J/cm²","40 J/cm²"],"title":null},"xOffset":{"field":"t","type":"nominal","sort":["UVA1","Ref vitro + UVA1","Fla vitro 1.5% MCE + UVA1"]},"y":{"field":"hi","type":"quantitative","title":"mRNA level (AU)"},"text":{"field":"lab"}}},
     {"transform":[{"filter":"datum.s!=='y'"}],"mark":{"type":"text","fontSize":9,"baseline":"bottom","dy":-1,"fill":"#222222"},"encoding":{"x":{"field":"d","type":"nominal","sort":["0 J/cm²","40 J/cm²"],"title":null},"xOffset":{"field":"t","type":"nominal","sort":["UVA1","Ref vitro + UVA1","Fla vitro 1.5% MCE + UVA1"]},"y":{"field":"hi","type":"quantitative","title":"mRNA level (AU)"},"text":{"field":"lab"}}}
    ]}}
 ],"spacing":10.5},
 {"hconcat":[
  {"vconcat":[
   {"vconcat":[
    {"vconcat":[
     {"hconcat":[
     {"title":{"text":"d"},"data":{"name":"bars"},"transform":[{"filter":"datum.p==='d1'"}],
      "facet":{"column":{"field":"g","type":"nominal","title":null,"header":{"labelPadding":3}}},
      "spec":{"width":84,"height":97,"layer":[
       {"mark":{"type":"bar","stroke":"#404040","strokeWidth":1},"encoding":{
        "x":{"field":"d","type":"nominal","sort":["0 J/cm²","40 J/cm²"],"title":null,"scale":{"paddingInner":0.09,"paddingOuter":0.26}},
        "xOffset":{"field":"t","type":"nominal","sort":["UVA1","Ref vitro + UVA1","Fla vitro 1.5% MCE + UVA1"],"scale":{"paddingInner":0.1}},
        "y":{"field":"m","type":"quantitative","title":"mRNA level (AU)","scale":{"domain":[0,20],"nice":false},"axis":{"values":[0,5,10,15],"format":"d","tickCount":30}},
        "color":{"field":"t","type":"nominal","title":null,"scale":{"domain":["UVA1","Ref vitro + UVA1","Fla vitro 1.5% MCE + UVA1"],"range":["#ffffff","#d0d0d0","#5c5c5c"]}}}},
       {"mark":{"type":"rule","color":"#555555","strokeWidth":1},"encoding":{"x":{"field":"d","type":"nominal","sort":["0 J/cm²","40 J/cm²"],"title":null},"xOffset":{"field":"t","type":"nominal","sort":["UVA1","Ref vitro + UVA1","Fla vitro 1.5% MCE + UVA1"]},"y":{"field":"lo","type":"quantitative","title":"mRNA level (AU)"},"y2":{"field":"hi"}}},
       {"mark":{"type":"tick","color":"#555555","thickness":1,"size":5},"encoding":{"x":{"field":"d","type":"nominal","sort":["0 J/cm²","40 J/cm²"],"title":null},"xOffset":{"field":"t","type":"nominal","sort":["UVA1","Ref vitro + UVA1","Fla vitro 1.5% MCE + UVA1"]},"y":{"field":"lo","type":"quantitative","title":"mRNA level (AU)"}}},
       {"mark":{"type":"tick","color":"#555555","thickness":1,"size":5},"encoding":{"x":{"field":"d","type":"nominal","sort":["0 J/cm²","40 J/cm²"],"title":null},"xOffset":{"field":"t","type":"nominal","sort":["UVA1","Ref vitro + UVA1","Fla vitro 1.5% MCE + UVA1"]},"y":{"field":"hi","type":"quantitative","title":"mRNA level (AU)"}}},
       {"transform":[{"filter":"datum.s==='y'"}],"mark":{"type":"text","fontWeight":"bold","fontSize":9,"baseline":"bottom","dy":-1,"fill":"#222222"},"encoding":{"x":{"field":"d","type":"nominal","sort":["0 J/cm²","40 J/cm²"],"title":null},"xOffset":{"field":"t","type":"nominal","sort":["UVA1","Ref vitro + UVA1","Fla vitro 1.5% MCE + UVA1"]},"y":{"field":"hi","type":"quantitative","title":"mRNA level (AU)"},"text":{"field":"lab"}}},
       {"transform":[{"filter":"datum.s!=='y'"}],"mark":{"type":"text","fontSize":9,"baseline":"bottom","dy":-1,"fill":"#222222"},"encoding":{"x":{"field":"d","type":"nominal","sort":["0 J/cm²","40 J/cm²"],"title":null},"xOffset":{"field":"t","type":"nominal","sort":["UVA1","Ref vitro + UVA1","Fla vitro 1.5% MCE + UVA1"]},"y":{"field":"hi","type":"quantitative","title":"mRNA level (AU)"},"text":{"field":"lab"}}}
      ]}}
     ],"spacing":0},
     {"data":{"name":"bars"},"transform":[{"filter":"datum.p==='d2'"}],
      "facet":{"column":{"field":"g","type":"nominal","title":null,"header":{"labelPadding":3}}},
      "spec":{"width":84,"height":102,"layer":[
       {"mark":{"type":"bar","stroke":"#404040","strokeWidth":1},"encoding":{
        "x":{"field":"d","type":"nominal","sort":["0 J/cm²","40 J/cm²"],"title":null,"scale":{"paddingInner":0.09,"paddingOuter":0.26}},
        "xOffset":{"field":"t","type":"nominal","sort":["UVA1","Ref vitro + UVA1","Fla vitro 1.5% MCE + UVA1"],"scale":{"paddingInner":0.1}},
        "y":{"field":"m","type":"quantitative","title":"mRNA level (AU)","scale":{"domain":[0,10],"nice":false},"axis":{"values":[0,2,4,6,8,10],"format":"d","tickCount":30}},
        "color":{"field":"t","type":"nominal","title":null,"scale":{"domain":["UVA1","Ref vitro + UVA1","Fla vitro 1.5% MCE + UVA1"],"range":["#ffffff","#d0d0d0","#5c5c5c"]}}}},
       {"mark":{"type":"rule","color":"#555555","strokeWidth":1},"encoding":{"x":{"field":"d","type":"nominal","sort":["0 J/cm²","40 J/cm²"],"title":null},"xOffset":{"field":"t","type":"nominal","sort":["UVA1","Ref vitro + UVA1","Fla vitro 1.5% MCE + UVA1"]},"y":{"field":"lo","type":"quantitative","title":"mRNA level (AU)"},"y2":{"field":"hi"}}},
       {"mark":{"type":"tick","color":"#555555","thickness":1,"size":5},"encoding":{"x":{"field":"d","type":"nominal","sort":["0 J/cm²","40 J/cm²"],"title":null},"xOffset":{"field":"t","type":"nominal","sort":["UVA1","Ref vitro + UVA1","Fla vitro 1.5% MCE + UVA1"]},"y":{"field":"lo","type":"quantitative","title":"mRNA level (AU)"}}},
       {"mark":{"type":"tick","color":"#555555","thickness":1,"size":5},"encoding":{"x":{"field":"d","type":"nominal","sort":["0 J/cm²","40 J/cm²"],"title":null},"xOffset":{"field":"t","type":"nominal","sort":["UVA1","Ref vitro + UVA1","Fla vitro 1.5% MCE + UVA1"]},"y":{"field":"hi","type":"quantitative","title":"mRNA level (AU)"}}},
       {"transform":[{"filter":"datum.s==='y'"}],"mark":{"type":"text","fontWeight":"bold","fontSize":9,"baseline":"bottom","dy":-1,"fill":"#222222"},"encoding":{"x":{"field":"d","type":"nominal","sort":["0 J/cm²","40 J/cm²"],"title":null},"xOffset":{"field":"t","type":"nominal","sort":["UVA1","Ref vitro + UVA1","Fla vitro 1.5% MCE + UVA1"]},"y":{"field":"hi","type":"quantitative","title":"mRNA level (AU)"},"text":{"field":"lab"}}},
       {"transform":[{"filter":"datum.s!=='y'"}],"mark":{"type":"text","fontSize":9,"baseline":"bottom","dy":-1,"fill":"#222222"},"encoding":{"x":{"field":"d","type":"nominal","sort":["0 J/cm²","40 J/cm²"],"title":null},"xOffset":{"field":"t","type":"nominal","sort":["UVA1","Ref vitro + UVA1","Fla vitro 1.5% MCE + UVA1"]},"y":{"field":"hi","type":"quantitative","title":"mRNA level (AU)"},"text":{"field":"lab"}}}
      ]}}
    ],"spacing":4},
    {"data":{"name":"bars"},"transform":[{"filter":"datum.p==='d3'"}],
     "facet":{"column":{"field":"g","type":"nominal","title":null,"header":{"labelPadding":2}}},
     "spec":{"width":84,"height":98,"layer":[
      {"mark":{"type":"bar","stroke":"#404040","strokeWidth":1},"encoding":{
       "x":{"field":"d","type":"nominal","sort":["0 J/cm²","40 J/cm²"],"title":null,"scale":{"paddingInner":0.09,"paddingOuter":0.26}},
       "xOffset":{"field":"t","type":"nominal","sort":["UVA1","Ref vitro + UVA1","Fla vitro 1.5% MCE + UVA1"],"scale":{"paddingInner":0.1}},
       "y":{"field":"m","type":"quantitative","title":"mRNA level (AU)","scale":{"domain":[0,1.2],"nice":false},"axis":{"values":[0,0.2,0.4,0.6,0.8,1.0,1.2],"format":".1f","tickCount":30}},
       "color":{"field":"t","type":"nominal","title":null,"scale":{"domain":["UVA1","Ref vitro + UVA1","Fla vitro 1.5% MCE + UVA1"],"range":["#ffffff","#d0d0d0","#5c5c5c"]}}}},
      {"mark":{"type":"rule","color":"#555555","strokeWidth":1},"encoding":{"x":{"field":"d","type":"nominal","sort":["0 J/cm²","40 J/cm²"],"title":null},"xOffset":{"field":"t","type":"nominal","sort":["UVA1","Ref vitro + UVA1","Fla vitro 1.5% MCE + UVA1"]},"y":{"field":"lo","type":"quantitative","title":"mRNA level (AU)"},"y2":{"field":"hi"}}},
      {"mark":{"type":"tick","color":"#555555","thickness":1,"size":5},"encoding":{"x":{"field":"d","type":"nominal","sort":["0 J/cm²","40 J/cm²"],"title":null},"xOffset":{"field":"t","type":"nominal","sort":["UVA1","Ref vitro + UVA1","Fla vitro 1.5% MCE + UVA1"]},"y":{"field":"lo","type":"quantitative","title":"mRNA level (AU)"}}},
      {"mark":{"type":"tick","color":"#555555","thickness":1,"size":5},"encoding":{"x":{"field":"d","type":"nominal","sort":["0 J/cm²","40 J/cm²"],"title":null},"xOffset":{"field":"t","type":"nominal","sort":["UVA1","Ref vitro + UVA1","Fla vitro 1.5% MCE + UVA1"]},"y":{"field":"hi","type":"quantitative","title":"mRNA level (AU)"}}},
      {"transform":[{"filter":"datum.s==='y'"}],"mark":{"type":"text","fontWeight":"bold","fontSize":9,"baseline":"bottom","dy":-1,"fill":"#222222"},"encoding":{"x":{"field":"d","type":"nominal","sort":["0 J/cm²","40 J/cm²"],"title":null},"xOffset":{"field":"t","type":"nominal","sort":["UVA1","Ref vitro + UVA1","Fla vitro 1.5% MCE + UVA1"]},"y":{"field":"hi","type":"quantitative","title":"mRNA level (AU)"},"text":{"field":"lab"}}},
      {"transform":[{"filter":"datum.s!=='y'"}],"mark":{"type":"text","fontSize":9,"baseline":"bottom","dy":-1,"fill":"#222222"},"encoding":{"x":{"field":"d","type":"nominal","sort":["0 J/cm²","40 J/cm²"],"title":null},"xOffset":{"field":"t","type":"nominal","sort":["UVA1","Ref vitro + UVA1","Fla vitro 1.5% MCE + UVA1"]},"y":{"field":"hi","type":"quantitative","title":"mRNA level (AU)"},"text":{"field":"lab"}}}
     ]}}
   ],"spacing":9},
   {"hconcat":[
   {"title":{"text":"f"},"data":{"name":"bars"},"transform":[{"filter":"datum.p==='f'"}],
    "facet":{"column":{"field":"g","type":"nominal","title":null,"header":{"labelPadding":8}}},
    "spec":{"width":84,"height":82,"layer":[
     {"mark":{"type":"bar","stroke":"#404040","strokeWidth":1},"encoding":{
      "x":{"field":"d","type":"nominal","sort":["0 J/cm²","40 J/cm²"],"title":null,"scale":{"paddingInner":0.09,"paddingOuter":0.26}},
      "xOffset":{"field":"t","type":"nominal","sort":["UVA1","Ref vitro + UVA1","Fla vitro 1.5% MCE + UVA1"],"scale":{"paddingInner":0.1}},
      "y":{"field":"m","type":"quantitative","title":"mRNA level (AU)","scale":{"domain":[0,12],"nice":false},"axis":{"values":[0,2,4,6,8,10,12],"format":"d","tickCount":30}},
      "color":{"field":"t","type":"nominal","title":null,"scale":{"domain":["UVA1","Ref vitro + UVA1","Fla vitro 1.5% MCE + UVA1"],"range":["#ffffff","#d0d0d0","#5c5c5c"]}}}},
     {"mark":{"type":"rule","color":"#555555","strokeWidth":1},"encoding":{"x":{"field":"d","type":"nominal","sort":["0 J/cm²","40 J/cm²"],"title":null},"xOffset":{"field":"t","type":"nominal","sort":["UVA1","Ref vitro + UVA1","Fla vitro 1.5% MCE + UVA1"]},"y":{"field":"lo","type":"quantitative","title":"mRNA level (AU)"},"y2":{"field":"hi"}}},
     {"mark":{"type":"tick","color":"#555555","thickness":1,"size":5},"encoding":{"x":{"field":"d","type":"nominal","sort":["0 J/cm²","40 J/cm²"],"title":null},"xOffset":{"field":"t","type":"nominal","sort":["UVA1","Ref vitro + UVA1","Fla vitro 1.5% MCE + UVA1"]},"y":{"field":"lo","type":"quantitative","title":"mRNA level (AU)"}}},
     {"mark":{"type":"tick","color":"#555555","thickness":1,"size":5},"encoding":{"x":{"field":"d","type":"nominal","sort":["0 J/cm²","40 J/cm²"],"title":null},"xOffset":{"field":"t","type":"nominal","sort":["UVA1","Ref vitro + UVA1","Fla vitro 1.5% MCE + UVA1"]},"y":{"field":"hi","type":"quantitative","title":"mRNA level (AU)"}}},
     {"transform":[{"filter":"datum.s==='y'"}],"mark":{"type":"text","fontWeight":"bold","fontSize":9,"baseline":"bottom","dy":-1,"fill":"#222222"},"encoding":{"x":{"field":"d","type":"nominal","sort":["0 J/cm²","40 J/cm²"],"title":null},"xOffset":{"field":"t","type":"nominal","sort":["UVA1","Ref vitro + UVA1","Fla vitro 1.5% MCE + UVA1"]},"y":{"field":"hi","type":"quantitative","title":"mRNA level (AU)"},"text":{"field":"lab"}}},
     {"transform":[{"filter":"datum.s!=='y'"}],"mark":{"type":"text","fontSize":9,"baseline":"bottom","dy":-1,"fill":"#222222"},"encoding":{"x":{"field":"d","type":"nominal","sort":["0 J/cm²","40 J/cm²"],"title":null},"xOffset":{"field":"t","type":"nominal","sort":["UVA1","Ref vitro + UVA1","Fla vitro 1.5% MCE + UVA1"]},"y":{"field":"hi","type":"quantitative","title":"mRNA level (AU)"},"text":{"field":"lab"}}}
    ]}}
   ],"spacing":0}
  ],"spacing":22},
  {"vconcat":[
   {"hconcat":[
   {"title":{"text":"e"},"data":{"name":"bars"},"transform":[{"filter":"datum.p==='e1'"}],
    "facet":{"column":{"field":"g","type":"nominal","title":null,"header":{"labelPadding":-3}}},
    "spec":{"width":90,"height":103,"layer":[
     {"mark":{"type":"bar","stroke":"#404040","strokeWidth":1},"encoding":{
      "x":{"field":"d","type":"nominal","sort":["0 J/cm²","40 J/cm²"],"title":null,"scale":{"paddingInner":0.09,"paddingOuter":0.26}},
      "xOffset":{"field":"t","type":"nominal","sort":["UVA1","Ref vitro + UVA1","Fla vitro 1.5% MCE + UVA1"],"scale":{"paddingInner":0.1}},
      "y":{"field":"m","type":"quantitative","title":"mRNA level (AU)","scale":{"domain":[0,10],"nice":false},"axis":{"values":[0,2,4,6,8],"format":"d","tickCount":30}},
      "color":{"field":"t","type":"nominal","title":null,"scale":{"domain":["UVA1","Ref vitro + UVA1","Fla vitro 1.5% MCE + UVA1"],"range":["#ffffff","#d0d0d0","#5c5c5c"]}}}},
     {"mark":{"type":"rule","color":"#555555","strokeWidth":1},"encoding":{"x":{"field":"d","type":"nominal","sort":["0 J/cm²","40 J/cm²"],"title":null},"xOffset":{"field":"t","type":"nominal","sort":["UVA1","Ref vitro + UVA1","Fla vitro 1.5% MCE + UVA1"]},"y":{"field":"lo","type":"quantitative","title":"mRNA level (AU)"},"y2":{"field":"hi"}}},
     {"mark":{"type":"tick","color":"#555555","thickness":1,"size":5},"encoding":{"x":{"field":"d","type":"nominal","sort":["0 J/cm²","40 J/cm²"],"title":null},"xOffset":{"field":"t","type":"nominal","sort":["UVA1","Ref vitro + UVA1","Fla vitro 1.5% MCE + UVA1"]},"y":{"field":"lo","type":"quantitative","title":"mRNA level (AU)"}}},
     {"mark":{"type":"tick","color":"#555555","thickness":1,"size":5},"encoding":{"x":{"field":"d","type":"nominal","sort":["0 J/cm²","40 J/cm²"],"title":null},"xOffset":{"field":"t","type":"nominal","sort":["UVA1","Ref vitro + UVA1","Fla vitro 1.5% MCE + UVA1"]},"y":{"field":"hi","type":"quantitative","title":"mRNA level (AU)"}}},
     {"transform":[{"filter":"datum.s==='y'"}],"mark":{"type":"text","fontWeight":"bold","fontSize":9,"baseline":"bottom","dy":-1,"fill":"#222222"},"encoding":{"x":{"field":"d","type":"nominal","sort":["0 J/cm²","40 J/cm²"],"title":null},"xOffset":{"field":"t","type":"nominal","sort":["UVA1","Ref vitro + UVA1","Fla vitro 1.5% MCE + UVA1"]},"y":{"field":"hi","type":"quantitative","title":"mRNA level (AU)"},"text":{"field":"lab"}}},
     {"transform":[{"filter":"datum.s!=='y'"}],"mark":{"type":"text","fontSize":9,"baseline":"bottom","dy":-1,"fill":"#222222"},"encoding":{"x":{"field":"d","type":"nominal","sort":["0 J/cm²","40 J/cm²"],"title":null},"xOffset":{"field":"t","type":"nominal","sort":["UVA1","Ref vitro + UVA1","Fla vitro 1.5% MCE + UVA1"]},"y":{"field":"hi","type":"quantitative","title":"mRNA level (AU)"},"text":{"field":"lab"}}}
    ]}}
   ],"spacing":0},
   {"data":{"name":"bars"},"transform":[{"filter":"datum.p==='e2'"}],
    "facet":{"column":{"field":"g","type":"nominal","title":null,"header":{"labelPadding":2}}},
    "spec":{"width":90,"height":101,"layer":[
     {"mark":{"type":"bar","stroke":"#404040","strokeWidth":1},"encoding":{
      "x":{"field":"d","type":"nominal","sort":["0 J/cm²","40 J/cm²"],"title":null,"scale":{"paddingInner":0.09,"paddingOuter":0.26}},
      "xOffset":{"field":"t","type":"nominal","sort":["UVA1","Ref vitro + UVA1","Fla vitro 1.5% MCE + UVA1"],"scale":{"paddingInner":0.1}},
      "y":{"field":"m","type":"quantitative","title":"mRNA level (AU)","scale":{"domain":[0,160],"nice":false},"axis":{"values":[0,40,80,120,160],"format":"d","tickCount":30}},
      "color":{"field":"t","type":"nominal","title":null,"scale":{"domain":["UVA1","Ref vitro + UVA1","Fla vitro 1.5% MCE + UVA1"],"range":["#ffffff","#d0d0d0","#5c5c5c"]}}}},
     {"mark":{"type":"rule","color":"#555555","strokeWidth":1},"encoding":{"x":{"field":"d","type":"nominal","sort":["0 J/cm²","40 J/cm²"],"title":null},"xOffset":{"field":"t","type":"nominal","sort":["UVA1","Ref vitro + UVA1","Fla vitro 1.5% MCE + UVA1"]},"y":{"field":"lo","type":"quantitative","title":"mRNA level (AU)"},"y2":{"field":"hi"}}},
     {"mark":{"type":"tick","color":"#555555","thickness":1,"size":5},"encoding":{"x":{"field":"d","type":"nominal","sort":["0 J/cm²","40 J/cm²"],"title":null},"xOffset":{"field":"t","type":"nominal","sort":["UVA1","Ref vitro + UVA1","Fla vitro 1.5% MCE + UVA1"]},"y":{"field":"lo","type":"quantitative","title":"mRNA level (AU)"}}},
     {"mark":{"type":"tick","color":"#555555","thickness":1,"size":5},"encoding":{"x":{"field":"d","type":"nominal","sort":["0 J/cm²","40 J/cm²"],"title":null},"xOffset":{"field":"t","type":"nominal","sort":["UVA1","Ref vitro + UVA1","Fla vitro 1.5% MCE + UVA1"]},"y":{"field":"hi","type":"quantitative","title":"mRNA level (AU)"}}},
     {"transform":[{"filter":"datum.s==='y'"}],"mark":{"type":"text","fontWeight":"bold","fontSize":9,"baseline":"bottom","dy":-1,"fill":"#222222"},"encoding":{"x":{"field":"d","type":"nominal","sort":["0 J/cm²","40 J/cm²"],"title":null},"xOffset":{"field":"t","type":"nominal","sort":["UVA1","Ref vitro + UVA1","Fla vitro 1.5% MCE + UVA1"]},"y":{"field":"hi","type":"quantitative","title":"mRNA level (AU)"},"text":{"field":"lab"}}},
     {"transform":[{"filter":"datum.s!=='y'"}],"mark":{"type":"text","fontSize":9,"baseline":"bottom","dy":-1,"fill":"#222222"},"encoding":{"x":{"field":"d","type":"nominal","sort":["0 J/cm²","40 J/cm²"],"title":null},"xOffset":{"field":"t","type":"nominal","sort":["UVA1","Ref vitro + UVA1","Fla vitro 1.5% MCE + UVA1"]},"y":{"field":"hi","type":"quantitative","title":"mRNA level (AU)"},"text":{"field":"lab"}}}
    ]}},
   {"data":{"name":"bars"},"transform":[{"filter":"datum.p==='e3'"}],
    "facet":{"column":{"field":"g","type":"nominal","title":null,"header":{"labelPadding":1}}},
    "spec":{"width":90,"height":100,"layer":[
     {"mark":{"type":"bar","stroke":"#404040","strokeWidth":1},"encoding":{
      "x":{"field":"d","type":"nominal","sort":["0 J/cm²","40 J/cm²"],"title":null,"scale":{"paddingInner":0.09,"paddingOuter":0.26}},
      "xOffset":{"field":"t","type":"nominal","sort":["UVA1","Ref vitro + UVA1","Fla vitro 1.5% MCE + UVA1"],"scale":{"paddingInner":0.1}},
      "y":{"field":"m","type":"quantitative","title":"mRNA level (AU)","scale":{"domain":[0,4],"nice":false},"axis":{"values":[0,1,2,3,4],"format":"d","tickCount":30}},
      "color":{"field":"t","type":"nominal","title":null,"scale":{"domain":["UVA1","Ref vitro + UVA1","Fla vitro 1.5% MCE + UVA1"],"range":["#ffffff","#d0d0d0","#5c5c5c"]}}}},
     {"mark":{"type":"rule","color":"#555555","strokeWidth":1},"encoding":{"x":{"field":"d","type":"nominal","sort":["0 J/cm²","40 J/cm²"],"title":null},"xOffset":{"field":"t","type":"nominal","sort":["UVA1","Ref vitro + UVA1","Fla vitro 1.5% MCE + UVA1"]},"y":{"field":"lo","type":"quantitative","title":"mRNA level (AU)"},"y2":{"field":"hi"}}},
     {"mark":{"type":"tick","color":"#555555","thickness":1,"size":5},"encoding":{"x":{"field":"d","type":"nominal","sort":["0 J/cm²","40 J/cm²"],"title":null},"xOffset":{"field":"t","type":"nominal","sort":["UVA1","Ref vitro + UVA1","Fla vitro 1.5% MCE + UVA1"]},"y":{"field":"lo","type":"quantitative","title":"mRNA level (AU)"}}},
     {"mark":{"type":"tick","color":"#555555","thickness":1,"size":5},"encoding":{"x":{"field":"d","type":"nominal","sort":["0 J/cm²","40 J/cm²"],"title":null},"xOffset":{"field":"t","type":"nominal","sort":["UVA1","Ref vitro + UVA1","Fla vitro 1.5% MCE + UVA1"]},"y":{"field":"hi","type":"quantitative","title":"mRNA level (AU)"}}},
     {"transform":[{"filter":"datum.s==='y'"}],"mark":{"type":"text","fontWeight":"bold","fontSize":9,"baseline":"bottom","dy":-1,"fill":"#222222"},"encoding":{"x":{"field":"d","type":"nominal","sort":["0 J/cm²","40 J/cm²"],"title":null},"xOffset":{"field":"t","type":"nominal","sort":["UVA1","Ref vitro + UVA1","Fla vitro 1.5% MCE + UVA1"]},"y":{"field":"hi","type":"quantitative","title":"mRNA level (AU)"},"text":{"field":"lab"}}},
     {"transform":[{"filter":"datum.s!=='y'"}],"mark":{"type":"text","fontSize":9,"baseline":"bottom","dy":-1,"fill":"#222222"},"encoding":{"x":{"field":"d","type":"nominal","sort":["0 J/cm²","40 J/cm²"],"title":null},"xOffset":{"field":"t","type":"nominal","sort":["UVA1","Ref vitro + UVA1","Fla vitro 1.5% MCE + UVA1"]},"y":{"field":"hi","type":"quantitative","title":"mRNA level (AU)"},"text":{"field":"lab"}}}
    ]}}
  ],"spacing":6}
 ],"spacing":20}
],
"spacing":30
}
